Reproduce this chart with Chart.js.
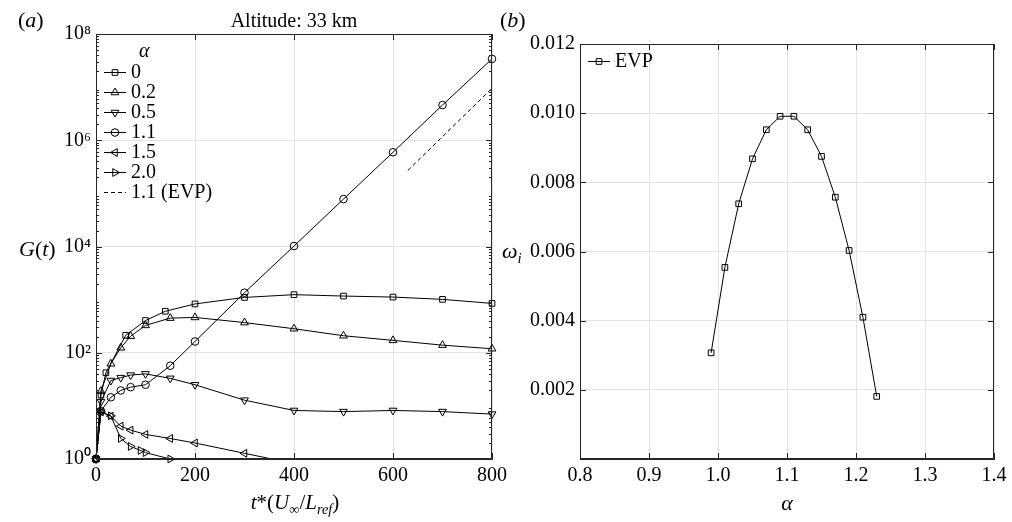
<!DOCTYPE html>
<html><head><meta charset="utf-8">
<script src="https://cdn.jsdelivr.net/npm/chart.js@4.4.1/dist/chart.umd.min.js"></script>
<style>
html,body{margin:0;padding:0;background:#fff;}
body{width:1012px;height:522px;position:relative;overflow:hidden;}
canvas{position:absolute;top:0;}
#c1{left:0;}
#c2{left:500px;}
.lbl{position:absolute;font-family:"Liberation Serif","Times New Roman",serif;color:#000;white-space:nowrap;line-height:1;}
.sub{font-size:0.68em;position:relative;top:0.32em;}
</style></head><body>
<canvas id="c1" width="512" height="522"></canvas>
<canvas id="c2" width="512" height="522"></canvas>
<div class="lbl" style="left:18px;top:9px;font-size:22px;">(<i>a</i>)</div>
<div class="lbl" style="left:500px;top:9px;font-size:22px;">(<i>b</i>)</div>
<div class="lbl" style="left:19px;top:238px;font-size:22px;"><i>G</i>(<i>t</i>)</div>
<div class="lbl" style="left:502px;top:240px;font-size:22px;"><i>ω</i><span class="sub"><i>i</i></span></div>
<div class="lbl" style="left:295px;top:492px;font-size:21px;transform:translateX(-50%);"><i>t</i>*(<i>U</i><span class="sub">∞</span>/<i>L</i><span class="sub"><i>ref</i></span>)</div>
<div class="lbl" style="left:787px;top:492px;font-size:22px;transform:translateX(-50%);"><i>α</i></div>
<script>
// ---------- data: panel (a) ----------
const tAlpha0   = [0,10,20,60,100,140,200,300,400,500,600,700,800];
const gAlpha0   = [1,16,42,213,404,604,830,1100,1240,1167,1117,1012,849];
const tAlpha02  = [0,10,30,50,70,100,150,200,300,400,500,600,700,800];
const gAlpha02  = [1,19,62,124,205,327,449,462,370,283,209,171,139,119];
const tAlpha05  = [0,10,30,50,70,100,150,200,300,400,500,600,700,800];
const gAlpha05  = [1,12,30,34,38,40,33,25,12.8,8.2,7.8,8.2,7.8,7.0];
const tAlpha11  = [0,10,30,50,70,100,150,200,300,400,500,600,700,800];
const gAlpha11  = [1,8,14.5,19.5,22.5,25,57,163,1350,10200,78000,595000,4600000,34000000];
const tAlpha15  = [0,10,30,50,70,100,150,200,300,400];
const gAlpha15  = [1,7.7,6.4,4.15,3.5,2.9,2.43,2.0,1.28,0.82];
const tAlpha20  = [0,10,30,50,70,90,100,150];
const gAlpha20  = [1,7.7,6.5,2.44,1.72,1.45,1.32,1.0];
const tEvp11    = [630,800];
const gEvp11    = [270000,9500000];
const legendLabelsA = ['0','0.2','0.5','1.1','1.5','2.0','1.1 (EVP)'];
const yTickValsA  = [1,1e2,1e4,1e6,1e8];
const yTickLabelsA = ['10\u2070','10\u00B2','10\u2074','10\u2076','10\u2078'];
const xTickValsA  = [0,200,400,600,800];
// ---------- data: panel (b) ----------
const alphaB = [0.99,1.01,1.03,1.05,1.07,1.09,1.11,1.13,1.15,1.17,1.19,1.21,1.23];
const omegaB = [0.00307,0.00554,0.00738,0.00868,0.00952,0.00991,0.00991,0.00952,0.00875,0.00757,0.00603,0.00410,0.00181];
const xTickValsB = [0.8,0.9,1.0,1.1,1.2,1.3,1.4];
const yTickValsB = [0,0.002,0.004,0.006,0.008,0.010,0.012];

const FF = '"Liberation Serif","Times New Roman",serif';
const TICK_FONT = {family: FF, size: 20};
const GRID = '#e4e4e4';
const AX = '#262626';

function pts(xs, ys){ return xs.map((x,i)=>({x:x, y:ys[i]})); }
function series(label, xs, ys, style, rot, r, clipB){
  return {label, data: pts(xs,ys), borderColor:'#000', backgroundColor:'rgba(0,0,0,0)',
    borderWidth:1, pointStyle:style, pointRotation:rot, pointRadius:r, pointHoverRadius:r,
    pointBorderWidth:1, pointBorderColor:'#000', pointBackgroundColor:'rgba(0,0,0,0)',
    tension:0, clip:{left:8,right:8,top:8,bottom:clipB}};
}

function boxTicks(id, minorY){
  return {
    id,
    afterDatasetsDraw(chart){
      const {ctx, chartArea:a} = chart;
      const xs = chart.scales.x, ys = chart.scales.y;
      ctx.save();
      ctx.strokeStyle = AX; ctx.lineWidth = 1;
      ctx.beginPath();
      ctx.rect(Math.round(a.left)+0.5, Math.round(a.top)+0.5, Math.round(a.right-a.left)-1, Math.round(a.bottom-a.top)-1);
      xs.ticks.forEach(t=>{
        const p = Math.round(xs.getPixelForValue(t.value))+0.5;
        ctx.moveTo(p,a.bottom); ctx.lineTo(p,a.bottom-6);
        ctx.moveTo(p,a.top); ctx.lineTo(p,a.top+6);
      });
      ys.ticks.forEach(t=>{
        const p = Math.round(ys.getPixelForValue(t.value))+0.5;
        ctx.moveTo(a.left,p); ctx.lineTo(a.left+6,p);
        ctx.moveTo(a.right,p); ctx.lineTo(a.right-6,p);
      });
      (minorY||[]).forEach(v=>{
        const p = Math.round(ys.getPixelForValue(v))+0.5;
        ctx.moveTo(a.left,p); ctx.lineTo(a.left+3,p);
        ctx.moveTo(a.right,p); ctx.lineTo(a.right-3,p);
      });
      ctx.stroke();
      ctx.restore();
    }
  };
}

function drawLegend(chart, entries, x0, y0, rowH, header){
  const {ctx, chartArea:a} = chart;
  ctx.save();
  ctx.fillStyle = '#000'; ctx.strokeStyle = '#000';
  ctx.textBaseline = 'middle'; ctx.textAlign = 'left';
  let y = a.top + y0;
  if (header){
    ctx.font = 'italic 20px ' + FF;
    ctx.fillText(header, a.left + x0 + 35, y);
    y += rowH;
  }
  entries.forEach(e=>{
    const lx = a.left + x0;
    ctx.lineWidth = 1;
    ctx.setLineDash(e.dash || []);
    ctx.beginPath(); ctx.moveTo(lx, y+0.5); ctx.lineTo(lx+22, y+0.5); ctx.stroke();
    ctx.setLineDash([]);
    if (e.style){
      ctx.fillStyle = 'rgba(0,0,0,0)';
      Chart.helpers.drawPoint(ctx, {pointStyle:e.style, radius:e.r, rotation:e.rot, borderWidth:1}, lx+11, y+0.5);
      ctx.fillStyle = '#000';
    }
    ctx.font = '20px ' + FF;
    ctx.fillText(e.text, lx + 27, y+1);
    y += rowH;
  });
  ctx.restore();
}

// ---------- chart (a) ----------
const minorA = [];
for (let k=0;k<8;k++){ for (let m=2;m<10;m++){ minorA.push(m*Math.pow(10,k)); } }

const dsA = [
  series('0',   tAlpha0,  gAlpha0,  'rect', 0, 4, 6),
  series('0.2', tAlpha02, gAlpha02, 'triangle', 0, 4.5, 6),
  series('0.5', tAlpha05, gAlpha05, 'triangle', 180, 4.5, 6),
  series('1.1', tAlpha11, gAlpha11, 'circle', 0, 3.8, 6),
  series('1.5', tAlpha15, gAlpha15, 'triangle', 270, 4.5, 0),
  series('2.0', tAlpha20, gAlpha20, 'triangle', 90, 4.5, 6),
  Object.assign(series('1.1 (EVP)', tEvp11, gEvp11, 'circle', 0, 0, 6), {borderDash:[4,3], pointRadius:0})
];

const legendA = {
  id:'legendA',
  afterDatasetsDraw(chart){
    const st = [['rect',0,4],['triangle',0,4.5],['triangle',180,4.5],['circle',0,3.8],['triangle',270,4.5],['triangle',90,4.5],[null,0,0]];
    const entries = legendLabelsA.map((t,i)=>({text:t, style:st[i][0], rot:st[i][1], r:st[i][2], dash: i===6?[4,3]:null}));
    drawLegend(chart, entries, 8, 18, 20, '\u03B1');
  }
};

new Chart(document.getElementById('c1'), {
  type:'line',
  data:{datasets: dsA},
  options:{
    responsive:false, animation:false, devicePixelRatio:1,
    layout:{padding:{top:0,right:18,left:0,bottom:0}},
    plugins:{
      legend:{display:false}, tooltip:{enabled:false},
      title:{display:true, text:'Altitude: 33 km', fullSize:false, color:'#000',
        font:{family:FF, size:20, weight:'normal', lineHeight:1.2}, padding:{top:10,bottom:0}}
    },
    scales:{
      x:{type:'linear', min:0, max:800,
        afterBuildTicks:s=>{ s.ticks = xTickValsA.map(v=>({value:v})); },
        ticks:{color:'#000', font:TICK_FONT, padding:5, autoSkip:false, maxRotation:0,
          callback:v=>String(v)},
        grid:{color:GRID, drawTicks:false, lineWidth:1},
        border:{display:true, color:AX},
        afterFit:s=>{ s.height = 63; }
      },
      y:{type:'logarithmic', min:1, max:1e8,
        afterBuildTicks:s=>{ s.ticks = yTickValsA.map(v=>({value:v})); },
        ticks:{color:'#000', font:TICK_FONT, padding:5, autoSkip:false,
          callback:v=>{ const i=yTickValsA.indexOf(v); return i>=0?yTickLabelsA[i]:''; }},
        grid:{color:GRID, drawTicks:false, lineWidth:1},
        border:{display:true, color:AX},
        afterFit:s=>{ s.width = 96; }
      }
    }
  },
  plugins:[boxTicks('boxA', minorA), legendA]
});

// ---------- chart (b) ----------
const legendB = {
  id:'legendB',
  afterDatasetsDraw(chart){
    drawLegend(chart, [{text:'EVP', style:'rect', rot:0, r:4}], 8, 17, 20, null);
  }
};

new Chart(document.getElementById('c2'), {
  type:'line',
  data:{datasets:[ series('EVP', alphaB, omegaB, 'rect', 0, 4, 6) ]},
  options:{
    responsive:false, animation:false, devicePixelRatio:1,
    layout:{padding:{top:44,right:18,left:0,bottom:0}},
    plugins:{legend:{display:false}, tooltip:{enabled:false}},
    scales:{
      x:{type:'linear', min:0.8, max:1.4,
        afterBuildTicks:s=>{ s.ticks = xTickValsB.map(v=>({value:v})); },
        ticks:{color:'#000', font:TICK_FONT, padding:5, autoSkip:false, maxRotation:0,
          callback:v=>Number(v).toFixed(1)},
        grid:{color:GRID, drawTicks:false, lineWidth:1},
        border:{display:true, color:AX},
        afterFit:s=>{ s.height = 63; }
      },
      y:{type:'linear', min:0, max:0.012,
        afterBuildTicks:s=>{ s.ticks = yTickValsB.map(v=>({value:v})); },
        ticks:{color:'#000', font:TICK_FONT, padding:5, autoSkip:false,
          callback:v=> v===0 ? '' : Number(v).toFixed(3)},
        grid:{color:GRID, drawTicks:false, lineWidth:1},
        border:{display:true, color:AX},
        afterFit:s=>{ s.width = 80; }
      }
    }
  },
  plugins:[boxTicks('boxB', null), legendB]
});
</script>
</body></html>
